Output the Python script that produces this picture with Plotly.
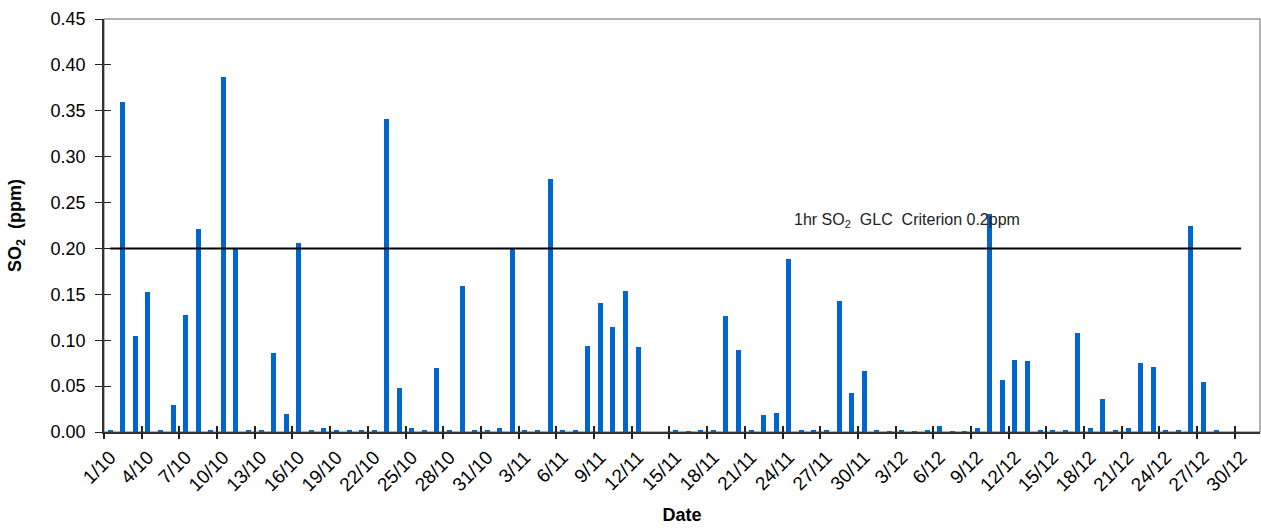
import plotly.graph_objects as go

# Daily max 1hr SO2 (ppm), 1/10 to 31/12 ; None = no data
oct_vals = [0.002, 0.360, 0.105, 0.153, 0.002, 0.029, 0.128, 0.221, 0.002, 0.387,
            0.199, 0.002, 0.002, 0.086, 0.020, 0.206, 0.002, 0.004, 0.002, 0.002,
            0.002, 0.002, 0.341, 0.048, 0.004, 0.002, 0.070, 0.002, 0.159, 0.002,
            0.002]
nov_vals = [0.004, 0.199, 0.002, 0.002, 0.276, 0.002, 0.002, 0.094, 0.141, 0.114,
            0.154, 0.093, None, None, 0.002, 0.001, 0.002, 0.002, 0.126, 0.089,
            0.002, 0.019, 0.021, 0.189, 0.002, 0.002, 0.002, 0.143, 0.043, 0.066]
dec_vals = [0.002, 0.001, 0.002, 0.001, 0.002, 0.007, 0.001, 0.001, 0.004, 0.237,
            0.057, 0.078, 0.077, 0.002, 0.002, 0.002, 0.108, 0.004, 0.036, 0.002,
            0.004, 0.075, 0.071, 0.002, 0.002, 0.225, 0.055, 0.002, None, None,
            None]

dates = ([f"{d}/10" for d in range(1, 32)] + [f"{d}/11" for d in range(1, 31)]
         + [f"{d}/12" for d in range(1, 32)])
so2 = oct_vals + nov_vals + dec_vals

# criterion line (drawn as a series like in the original)
crit_dates = ["1/10", "30/12"]
crit_ppm = [0.2, 0.2]

tick_dates = dates[::3]

idx = list(range(len(dates)))
pos = {d: i for i, d in enumerate(dates)}
tick_pos = [pos[d] for d in tick_dates]
tick_bnd = [p - 0.5 for p in tick_pos]

font = "Liberation Sans, Arial, sans-serif"
yr = [0, 0.45]
xr = [-0.5, len(dates) - 0.5]

fig = go.Figure()
fig.add_trace(go.Bar(x=idx, y=so2, width=0.4, marker=dict(color="#0066CC", line=dict(width=0)),
                     customdata=dates, hovertemplate="%{customdata}: %{y:.3f} ppm<extra></extra>"))
fig.add_trace(go.Scatter(x=[pos[d] for d in crit_dates], y=crit_ppm, mode="lines",
                         line=dict(color="black", width=2), hoverinfo="skip"))

fig.add_annotation(x=63.4, y=0.2305, xref="x", yref="y", showarrow=False,
                   text="1hr SO<sub>2</sub>  GLC  Criterion 0.2ppm",
                   font=dict(family=font, size=16, color="#222"))

# grey plot frame (top / right)
fig.add_shape(type="rect", xref="paper", yref="paper", x0=0, y0=0, x1=1, y1=1,
              line=dict(color="#999", width=1.5), layer="below")

fig.update_layout(
    width=1261, height=529,
    margin=dict(l=104, r=1, t=19, b=97, pad=0),
    plot_bgcolor="white", paper_bgcolor="white",
    showlegend=False, bargap=0,
    font=dict(family=font, size=18, color="black"),
    xaxis=dict(range=xr, tickmode="array", tickvals=tick_pos, ticktext=tick_dates,
               tickangle=-45, ticks="", showgrid=False, zeroline=False,
               showline=True, linecolor="#333", linewidth=1.5,
               tickfont=dict(size=19), ticklabelstandoff=5,
               title=dict(text="<b>Date</b>", font=dict(size=18), standoff=14)),
    xaxis2=dict(range=xr, overlaying="x", anchor="y", side="bottom", tickmode="array",
                tickvals=tick_bnd, ticks="outside", ticklen=6, tickwidth=1.5, tickcolor="#222",
                showticklabels=False, showgrid=False, zeroline=False, showline=False),
    xaxis3=dict(range=xr, overlaying="x", anchor="y", side="bottom", tickmode="array",
                tickvals=tick_bnd, ticks="inside", ticklen=6, tickwidth=1.5, tickcolor="#222",
                showticklabels=False, showgrid=False, zeroline=False, showline=False),
    yaxis=dict(range=yr, dtick=0.05, tickformat=".2f", ticks="outside", ticklen=7,
               tickwidth=1, tickcolor="#222", ticklabelstandoff=6,
               showgrid=False, zeroline=False, showline=True, linecolor="#333", linewidth=1.5,
               tickfont=dict(size=18),
               title=dict(text="<b>SO<sub>2</sub>  (ppm)</b>", font=dict(size=18), standoff=24)),
    yaxis2=dict(range=yr, overlaying="y", anchor="x", dtick=0.05, ticks="inside", ticklen=7,
                tickwidth=1, tickcolor="#222", showticklabels=False, showgrid=False,
                zeroline=False, showline=False),
)
fig.add_trace(go.Scatter(x=[None], y=[None], xaxis="x2", yaxis="y2", hoverinfo="skip"))
fig.add_trace(go.Scatter(x=[None], y=[None], xaxis="x3", yaxis="y", hoverinfo="skip"))

# no page margin so the figure sits at the window's corner
fig.write_html("out.html", config={"displayModeBar": False},
               post_script="document.body.style.margin='0';document.body.style.overflow='hidden';")
